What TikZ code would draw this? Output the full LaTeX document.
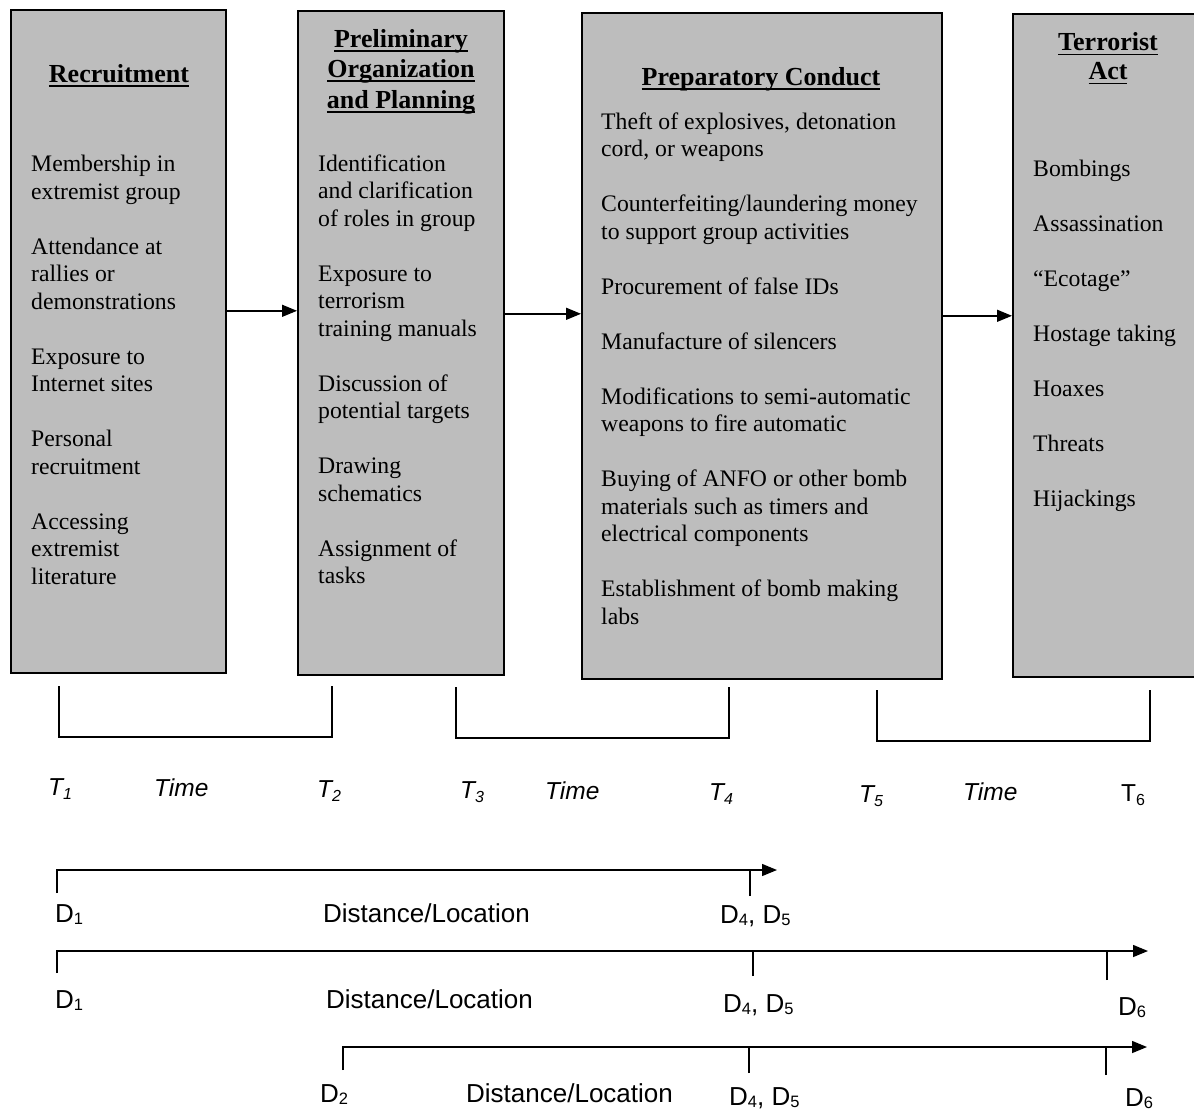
\documentclass[tikz,border=0pt]{standalone}
\usepackage{fontspec}
\setmainfont{Liberation Serif}
\setsansfont{Liberation Sans}
\usepackage{tikz}
\usetikzlibrary{calc,arrows.meta,positioning}

\newcommand\ulbar[1]{\setbox0\hbox{#1}\rlap{\rule[-4.5pt]{\wd0}{1.7pt}}\box0}
\newcommand\tidx[1]{\raisebox{-4pt}{\fontsize{16}{16}\selectfont #1}}
\newcommand\didx[1]{\raisebox{-2pt}{\fontsize{16.5}{16}\selectfont #1}}

\begin{document}
\begin{tikzpicture}[x=1pt,y=-1pt,
  stage/.style={draw, line width=1.6pt, fill=black!26, anchor=north west, inner sep=0pt},
  head/.style={anchor=north, align=center, inner sep=0pt,
    font=\fontsize{26}{30.5}\selectfont\bfseries},
  items/.style={anchor=north west, align=left, inner sep=0pt,
    font=\fontsize{23.7}{27.5}\selectfont},
  tlbl/.style={anchor=base west, inner sep=0pt, font=\fontsize{24.5}{27}\selectfont\sffamily\itshape},
  dlbl/.style={anchor=base west, inner sep=0pt, font=\fontsize{26}{29}\selectfont\sffamily},
  lw/.style={line width=1.4pt},
  arr/.style={lw, -{Triangle[length=15pt,width=12pt]}}]
  \useasboundingbox (0,0) rectangle (1194,1111);
  \clip (0,0) rectangle (1194,1111);
  % stages
  \node[stage, minimum width=215pt, minimum height=663pt](Rec) at (10,9) {};
  \node[stage, minimum width=206pt, minimum height=664pt](Org) at (297,10) {};
  \node[stage, minimum width=360pt, minimum height=666pt](Prep) at (581,12) {};
  \node[stage, minimum width=200pt, minimum height=663pt](Act) at (1012,13) {};
  \draw[arr]([yshift=30.5pt]Rec.east)--([yshift=30.5pt]Rec.east -| Org.west);
  \draw[arr]([yshift=29pt]Org.east)--([yshift=29pt]Org.east -| Prep.west);
  \draw[arr]([yshift=30pt]Prep.east)--([yshift=30pt]Prep.east -| Act.west);
  % headings
  \node[head](RecH) at (119,60.6) {\strut\ulbar{Recruitment}};
  \node[head](OrgH) at (401,25.6) {\strut\ulbar{Preliminary}\\\ulbar{Organization}\\\ulbar{and Planning}};
  \node[head](PrepH) at (761,63.6) {\strut\ulbar{Preparatory Conduct}};
  \node[head, font=\fontsize{26}{29}\selectfont\bfseries](ActH) at (1108,30.2)
    {\strut\ulbar{Terrorist}\\\ulbar{Act}};
  % items
  \node[items](RecI) at (31,152.2) {\strut Membership in\\extremist group\\[27.5pt]
    Attendance at\\rallies or\\demonstrations\\[27.5pt]Exposure to\\Internet sites\\[27.5pt]
    Personal\\recruitment\\[27.5pt]Accessing\\extremist\\literature};
  \node[items](OrgI) at (318,152) {\strut Identification\\and clarification\\of roles in group\\[27.5pt]
    Exposure to\\terrorism\\training manuals\\[27.5pt]Discussion of\\potential targets\\[27.5pt]
    Drawing\\schematics\\[27.5pt]Assignment of\\tasks};
  \node[items](PrepI) at (601,110) {\strut Theft of explosives, detonation\\cord, or weapons\\[27.5pt]
    Counterfeiting/laundering money\\to support group activities\\[27.5pt]
    Procurement of false IDs\\[27.5pt]Manufacture of silencers\\[27.5pt]
    Modifications to semi-automatic\\weapons to fire automatic\\[27.5pt]
    Buying of ANFO or other bomb\\materials such as timers and\\electrical components\\[27.5pt]
    Establishment of bomb making\\labs};
  \node[items](ActI) at (1033,157) {\strut Bombings\\[27.5pt]Assassination\\[27.5pt]“Ecotage”\\[27.5pt]
    Hostage taking\\[27.5pt]Hoaxes\\[27.5pt]Threats\\[27.5pt]Hijackings};
  % time brackets
  \coordinate(B1) at (59,686);
  \coordinate(B2) at (332,737);
  \coordinate(B3) at (456,687);
  \coordinate(B4) at (729,738);
  \coordinate(B5) at (877,690);
  \coordinate(B6) at (1150,741);
  \draw[lw](B1)|-(B2)--(B2|-B1);
  \draw[lw](B3)|-(B4)--(B4|-B3);
  \draw[lw](B5)|-(B6)--(B6|-B5);
  \node[tlbl](T1) at (48,795) {T\tidx{1}};
  \node[tlbl](Tm1) at (154,796) {Time};
  \node[tlbl](T2) at (317,797) {T\tidx{2}};
  \node[tlbl](T3) at (460,798) {T\tidx{3}};
  \node[tlbl](Tm2) at (545,799) {Time};
  \node[tlbl](T4) at (709,800) {T\tidx{4}};
  \node[tlbl](T5) at (859,802) {T\tidx{5}};
  \node[tlbl](Tm3) at (963,800) {Time};
  \node[tlbl, font=\fontsize{24.5}{27}\selectfont\sffamily](T6) at (1121,801) {T\tidx{6}};
  % distance lines
  \coordinate(S1) at (57,893);
  \coordinate(E1) at (777,870);
  \coordinate(K1) at (750,896);
  \draw[arr](S1)|-(E1);
  \draw[lw](K1)--(K1|-E1);
  \coordinate(S2) at (57,973);
  \coordinate(E2) at (1148,951);
  \coordinate(K2) at (753,976);
  \coordinate(K3) at (1107,980);
  \draw[arr](S2)|-(E2);
  \draw[lw](K2)--(K2|-E2);
  \draw[lw](K3)--(K3|-E2);
  \coordinate(S3) at (343,1070);
  \coordinate(E3) at (1147,1047);
  \coordinate(K4) at (749,1073);
  \coordinate(K5) at (1106,1075);
  \draw[arr](S3)|-(E3);
  \draw[lw](K4)--(K4|-E3);
  \draw[lw](K5)--(K5|-E3);
  \node[dlbl](D1) at (55,922) {D\didx{1}};
  \node[dlbl](L1) at (323,922) {Distance/Location};
  \node[dlbl](D45a) at (720,923) {D\didx{4}, D\didx{5}};
  \node[dlbl](D1b) at (55,1008) {D\didx{1}};
  \node[dlbl](L2) at (326,1008) {Distance/Location};
  \node[dlbl](D45b) at (723,1012) {D\didx{4}, D\didx{5}};
  \node[dlbl](D6a) at (1118,1015) {D\didx{6}};
  \node[dlbl](D2) at (320,1102) {D\didx{2}};
  \node[dlbl](L3) at (466,1102) {Distance/Location};
  \node[dlbl](D45c) at (729,1105) {D\didx{4}, D\didx{5}};
  \node[dlbl](D6b) at (1125,1106) {D\didx{6}};
\end{tikzpicture}
\end{document}
